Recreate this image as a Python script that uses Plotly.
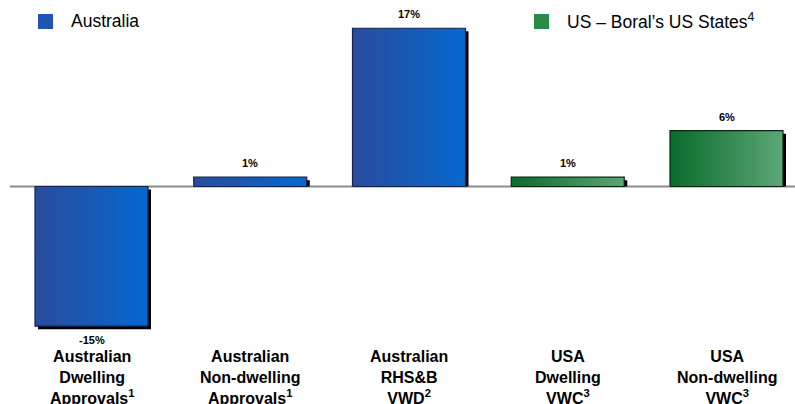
import plotly.graph_objects as go

categories = [
    "Australian<br>Dwelling<br>Approvals<sup>1</sup>",
    "Australian<br>Non-dwelling<br>Approvals<sup>1</sup>",
    "Australian<br>RHS&B<br>VWD<sup>2</sup>",
    "USA<br>Dwelling<br>VWC<sup>3</sup>",
    "USA<br>Non-dwelling<br>VWC<sup>3</sup>",
]
values = [-15, 1, 17, 1, 6]
value_labels = ["-15%", "1%", "17%", "1%", "6%"]
groups = ["Australia", "Australia", "Australia", "US", "US"]
legend_labels = {"Australia": "Australia", "US": "US – Boral’s US States<sup>4</sup>"}

W, H = 795, 404
gradients = {
    "Australia": ["#2a4b9c", "#0568cf"],
    "US": ["#0a6b2b", "#5ca676"],
}
outline = {"Australia": "#14244d", "US": "#0b2412"}

# axis geometry (pixels -> data)
px_per_cat = 158.75
x0_px = 91.5
zero_px = 186.5
px_per_unit = 9.31
xr = [-x0_px / px_per_cat, (W - x0_px) / px_per_cat]
yr = [-(H - zero_px) / px_per_unit, zero_px / px_per_unit]
half = 56.5 / px_per_cat
dx = 3 / px_per_cat
dy = 3 / px_per_unit

fig = go.Figure()

# zero line
fig.add_shape(type="line", xref="paper", yref="y", x0=10 / W, x1=1, y0=0, y1=0,
              line=dict(color="#8c8c8c", width=2), layer="below")

for i, (v, g) in enumerate(zip(values, groups)):
    # shadow
    if v >= 0:
        sy0, sy1 = 0, v - dy
    else:
        sy0, sy1 = -dy, v - dy
    sx0, sx1 = i - half + dx, i + half + dx
    fig.add_trace(go.Scatter(
        x=[sx0, sx1, sx1, sx0, sx0], y=[sy0, sy0, sy1, sy1, sy0],
        mode="lines", fill="toself", fillcolor="#000000",
        line=dict(width=0), hoverinfo="skip", showlegend=False))
    # bar with horizontal gradient
    bx0, bx1 = i - half, i + half
    fig.add_trace(go.Scatter(
        x=[bx0, bx1, bx1, bx0, bx0], y=[0, 0, v, v, 0],
        mode="lines", fill="toself",
        fillgradient=dict(type="horizontal",
                          colorscale=[[0, gradients[g][0]], [1, gradients[g][1]]]),
        line=dict(width=1.2, color=outline[g]), hoverinfo="skip", showlegend=False))
    # value label
    fig.add_annotation(x=i, y=v, xref="x", yref="y", text="<b>%s</b>" % value_labels[i],
                       showarrow=False, yanchor="bottom" if v >= 0 else "top",
                       yshift=6 if v >= 0 else -6,
                       font=dict(family="Liberation Sans, Arial", size=11, color="#000"))
    # category label
    fig.add_annotation(x=i, y=1 - 346 / H, xref="x", yref="paper",
                       text="<b>%s</b>" % categories[i], showarrow=False,
                       yanchor="top", align="center",
                       font=dict(family="Liberation Sans, Arial", size=16, color="#000"))

# legend
legend_pos = {"Australia": (38, 69), "US": (534, 565)}
for g, (sq_x, tx_x) in legend_pos.items():
    fig.add_shape(type="rect", xref="paper", yref="paper",
                  x0=sq_x / W, x1=(sq_x + 15) / W, y0=1 - 29 / H, y1=1 - 14 / H,
                  fillcolor="#1f55b5" if g == "Australia" else "#2a8a48",
                  line=dict(width=0))
    fig.add_annotation(x=tx_x / W, y=1 - 21 / H, xref="paper", yref="paper",
                       text=legend_labels[g], showarrow=False, xanchor="left",
                       yanchor="middle",
                       font=dict(family="Liberation Sans, Arial", size=17.5, color="#000"))

fig.update_layout(
    width=W, height=H, margin=dict(l=0, r=0, t=0, b=0),
    paper_bgcolor="white", plot_bgcolor="white", showlegend=False,
    xaxis=dict(range=xr, visible=False, fixedrange=True),
    yaxis=dict(range=yr, visible=False, fixedrange=True),
)

fig.write_html("out.html", config={"displayModeBar": False},
               post_script="document.body.style.margin='0';document.body.style.overflow='hidden';")
